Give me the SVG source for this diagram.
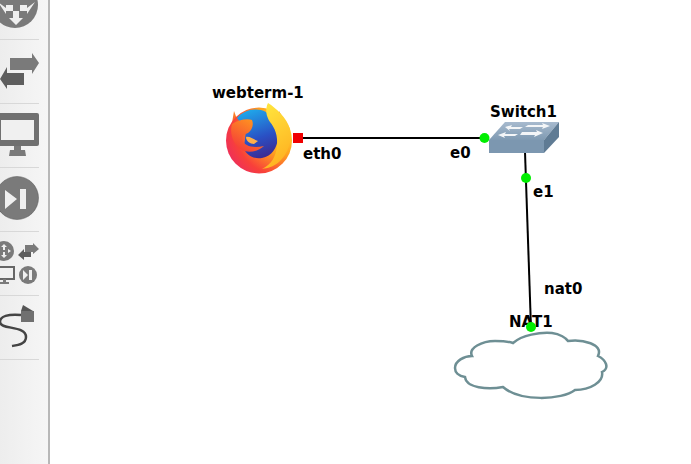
<svg xmlns="http://www.w3.org/2000/svg" width="691" height="464" viewBox="0 0 691 464">
<style>
.l{font-family:"DejaVu Sans",sans-serif;font-weight:bold;font-size:15px;fill:#000}
.sep{stroke:#d8d8d8;stroke-width:1}
.ic{fill:#7a7a7a}
.w{fill:#efefef}
.link{stroke:#000;stroke-width:2;fill:none}
.dot{fill:#00ee00}
</style>
<defs>
<linearGradient id="tb" x1="0" x2="1" y1="0" y2="0"><stop offset="0" stop-color="#ededed"/><stop offset="1" stop-color="#f6f6f6"/></linearGradient>
<radialGradient id="ffo" gradientUnits="userSpaceOnUse" cx="285" cy="125" r="72"><stop offset="0" stop-color="#ffe53a"/><stop offset="0.4" stop-color="#ffa41e"/><stop offset="0.72" stop-color="#f8403a"/><stop offset="1" stop-color="#e8246e"/></radialGradient>
<linearGradient id="ffb" x1="0.3" y1="0" x2="0.6" y2="1"><stop offset="0" stop-color="#1fa8ea"/><stop offset="0.6" stop-color="#2a50c4"/><stop offset="1" stop-color="#3c2a92"/></linearGradient>
<linearGradient id="ffy" x1="0" y1="0" x2="0.3" y2="1"><stop offset="0" stop-color="#ffe83f"/><stop offset="1" stop-color="#ffb422"/></linearGradient>
<linearGradient id="fft" x1="0.8" y1="0" x2="0.2" y2="1"><stop offset="0" stop-color="#ff9a1e"/><stop offset="1" stop-color="#f4383a"/></linearGradient>
<linearGradient id="swt" x1="0" y1="0" x2="0" y2="1"><stop offset="0" stop-color="#a7bace"/><stop offset="1" stop-color="#7f9ab2"/></linearGradient>
</defs>
<rect width="691" height="464" fill="#fff"/>
<g id="toolbar">
<rect x="0" y="0" width="48" height="464" fill="url(#tb)"/>
<rect x="48" y="0" width="2" height="464" fill="#b8b8b8"/>
<path class="sep" d="M0 39.500H39M0 103.500H39M0 167.500H39M0 231.500H39M0 295.500H39M0 359.500H39"/>
<circle class="ic" cx="15" cy="5" r="23"/>
<path class="w" d="M16 25l-7-7h4v-7h6v7h4zM-2 2l8 6 0-3h7v6H6v3zM35 2l-8 6v-3h-7v6h7v3z"/>
<path class="ic" d="M10 58h22v-5l7 10-7 11v-4H10z"/>
<path fill="#5e5e5e" d="M24 73H7v-6L0 79l7 10v-4h17z"/>
<rect x="-6" y="113" width="45" height="33" rx="2" fill="#707070"/>
<rect x="1" y="120" width="33" height="20" fill="#f0f0f0"/>
<path class="ic" d="M14 146h7v4h4l1 6H9l1-6h4z"/>
<circle cx="17" cy="198" r="21.500" fill="#7a7a7a" stroke="#555" stroke-width="0.500"/>
<path class="w" d="M5 190l12 9-12 10zM20 189h6v20h-6z"/>
<circle class="ic" cx="4" cy="251" r="10"/>
<path class="w" d="M4 258l-3-3h2v-3h2v3h2zM4 244l-3 3h2v3h2v-3h2zM-3 251l3-2v4zM11 251l-3-2v4z"/>
<path class="ic" d="M25 245h8v-2l6 6-6 5v-2h-8z"/>
<path fill="#5e5e5e" d="M31 252h-7v-3l-6 6 6 5v-3h7z"/>
<rect x="-3" y="267" width="17" height="12" fill="#f0f0f0" stroke="#666" stroke-width="2"/>
<path class="ic" d="M3 279h3v3h3v2H0v-2h3z"/>
<circle class="ic" cx="28" cy="275" r="9"/>
<path class="w" d="M23 270l5 5-5 5zM29 270h3v10h-3z"/>
<path d="M21 315C8 314 0 316 0 322C0 330 26 325 26 337C26 344 18 345 12 346" fill="none" stroke="#444" stroke-width="2.500"/>
<path d="M21 311h13v11H21z" fill="#707070"/>
<path d="M23 305l10 6H21z" fill="#555"/>
</g>
<g id="connectors">
<path class="link" d="M298 138H485"/>
<path class="link" d="M525 152L531 328"/>
</g>
<g id="webterm-1">
<path fill="url(#fft)" d="M234 111l3 8 5 4-12 12z"/>
<path fill="#f7803a" d="M279 111l5 9-5 4z"/>
<circle cx="259" cy="140.500" r="33" fill="url(#ffo)"/>
<path fill="url(#ffb)" d="M237 118C244 110 256 107 266 112C276 120 279 130 278 138C277 148 272 156 262 158C252 160 244 152 244 148L246 130z"/>
<path fill="url(#fft)" d="M232 124C238 120 247 118 252 120C254 125 252 130 248 133C244 135 241 136 242 139C244 147 254 148 264 146C258 152 248 153 242 150C234 146 229 134 232 124z"/>
<path fill="#ffb04a" d="M246 137C250 136 254 140 258 141L254 144C250 144 246 141 246 137z"/>
<path fill="url(#ffy)" d="M268 103C276 108 287 118 290 129C292 141 288 154 279 162C273 167 268 168 262 169C272 164 276 156 277 146C278 136 275 128 270 122C266 116 265 109 268 103z"/>
<text class="l" x="212" y="98">webterm-1</text>
</g>
<rect x="293" y="133" width="10" height="10" fill="#f00000"/>
<text class="l" x="303" y="159">eth0</text>
<g id="Switch1">
<path d="M489 140h55v13h-55z" fill="#7c97b0"/>
<path d="M489 140l16-18h54l-15 18z" fill="url(#swt)"/>
<path d="M544 140l15-18v15l-15 16z" fill="#5f7b94"/>
<path d="M505 127l7-2-1 2h12l-3 2h-11l1 2zM528 125h15l-1-2 8 3-8 3 1-2h-18zM498 135l8-3-1 2h13l-3 2h-11l1 2zM522 132h15l-1-2 7 3-9 4 1-2h-15z" fill="#f4f6f8"/>
<text class="l" x="490" y="117">Switch1</text>
</g>
<circle class="dot" cx="484.500" cy="138" r="5"/>
<text class="l" x="450" y="158">e0</text>
<circle class="dot" cx="526" cy="178" r="5"/>
<text class="l" x="533" y="197">e1</text>
<g id="NAT1">
<path d="M455 368C455 361 464 356 472 356C468 348 482 341 495 341C502 341 510 342 513 343C522 335 540 332 552 333C560 334 566 338 568 341C582 339 604 344 598 356C606 360 610 368 602 372C604 382 590 390 575 390C562 400 520 402 503 387C488 390 466 388 465 377C458 376 455 372 455 368z" fill="#fff" stroke="#6e8f94" stroke-width="2.500"/>
<text class="l" x="509" y="327">NAT1</text>
</g>
<circle class="dot" cx="531" cy="327" r="5"/>
<text class="l" x="544" y="294">nat0</text>
</svg>
